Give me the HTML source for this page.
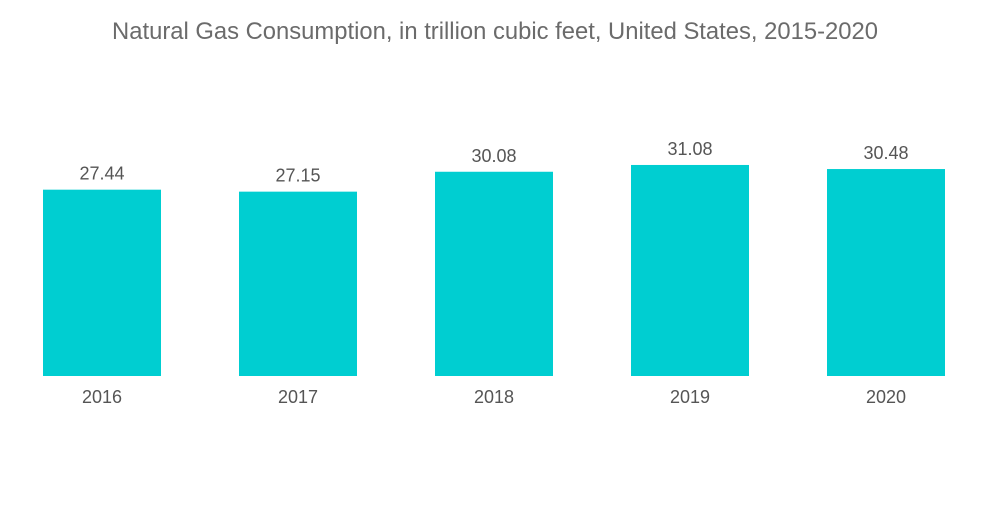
<!DOCTYPE html>
<html>
<head>
<meta charset="utf-8">
<style>
  html, body { margin: 0; padding: 0; background: #ffffff; }
  body { width: 1000px; height: 504px; overflow: hidden; font-family: "Liberation Sans", sans-serif; }
  svg text { font-family: "Liberation Sans", sans-serif; }
</style>
</head>
<body>
<svg id="chart" width="1000" height="504" viewBox="0 0 1000 504">
  <text x="495" y="39" text-anchor="middle" font-size="23.8" fill="#6b6b6b">Natural Gas Consumption, in trillion cubic feet, United States, 2015-2020</text>
  <g id="bars"></g>
</svg>
<script>
const categories = ["2016", "2017", "2018", "2019", "2020"];
const values = [27.44, 27.15, 30.08, 31.08, 30.48];
const valueLabels = ["27.44", "27.15", "30.08", "31.08", "30.48"];

const baseline = 376;
const pxPerUnit = 6.79;
const firstX = 43, step = 196, barW = 118;
function xScale(i) { return firstX + i * step; }
function yScale(v) { return baseline - v * pxPerUnit; }

const g = document.getElementById('bars');
const NS = "http://www.w3.org/2000/svg";
categories.forEach((c, i) => {
  const x = xScale(i), y = yScale(values[i]);
  const r = document.createElementNS(NS, 'rect');
  r.setAttribute('x', x); r.setAttribute('y', y);
  r.setAttribute('width', barW); r.setAttribute('height', baseline - y);
  r.setAttribute('fill', '#00ced1');
  
  
  g.appendChild(r);

  const vt = document.createElementNS(NS, 'text');
  vt.setAttribute('x', x + barW / 2); vt.setAttribute('y', y - 10);
  vt.setAttribute('text-anchor', 'middle'); vt.setAttribute('font-size', '18');
  vt.setAttribute('fill', '#555555');
  vt.textContent = valueLabels[i];
  
  
  g.appendChild(vt);

  const ct = document.createElementNS(NS, 'text');
  ct.setAttribute('x', x + barW / 2); ct.setAttribute('y', 403);
  ct.setAttribute('text-anchor', 'middle'); ct.setAttribute('font-size', '18');
  ct.setAttribute('fill', '#555555');
  ct.textContent = c;
  
  
  g.appendChild(ct);
});
</script>
</body>
</html>
